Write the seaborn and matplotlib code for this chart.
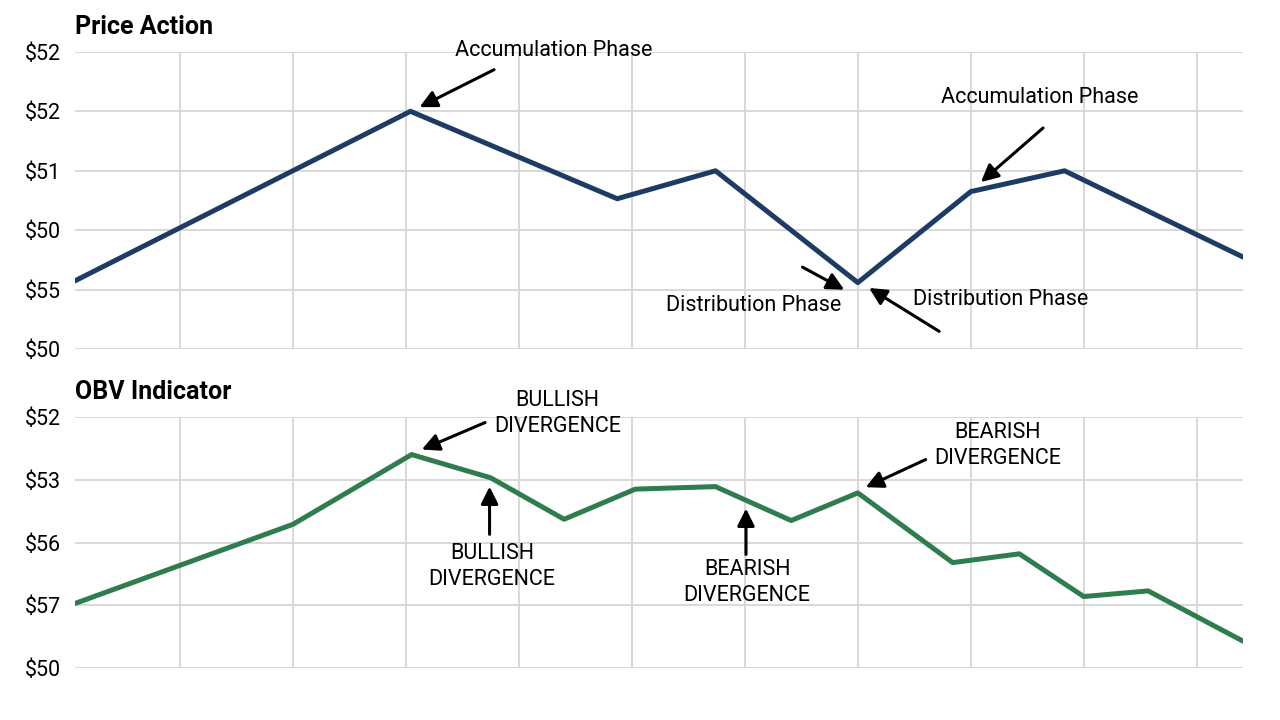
import numpy as np
import pandas as pd
import matplotlib.pyplot as plt
import seaborn as sns

# price line (x in grid steps, y in grid rows from bottom)
price_x = [0.07, 3.04, 4.87, 5.74, 7.0, 8.0, 8.83, 10.41]
price_y = [1.15, 4.0, 2.53, 3.0, 1.12, 2.65, 3.0, 1.55]
price_ticks = ["$50", "$55", "$50", "$51", "$52", "$52"]

# OBV line
obv_x = [0.07, 2.0, 3.05, 3.75, 4.40, 5.03, 5.74, 6.41, 7.0, 7.84, 8.43, 9.0, 9.57, 10.41]
obv_y = [1.03, 2.29, 3.40, 3.03, 2.37, 2.85, 2.89, 2.35, 2.79, 1.68, 1.82, 1.14, 1.23, 0.43]
obv_ticks = ["$50", "$57", "$56", "$53", "$52"]

# annotations: text, text pos, arrow tail, arrow head
price_notes = [
    ("Accumulation Phase", (4.31, 5.03), (3.78, 4.70), (3.12, 4.07)),
    ("Accumulation Phase", (8.61, 4.23), (8.64, 3.72), (8.09, 2.81)),
    ("Distribution Phase", (6.08, 0.74), (6.51, 1.38), (6.88, 1.0)),
    ("Distribution Phase", (8.26, 0.84), (7.72, 0.30), (7.10, 1.03)),
]
obv_notes = [
    ("BULLISH\nDIVERGENCE", (4.34, 4.06), (3.70, 3.91), (3.14, 3.48)),
    ("BULLISH\nDIVERGENCE", (3.76, 1.62), (3.74, 2.13), (3.74, 2.89)),
    ("BEARISH\nDIVERGENCE", (6.02, 1.36), (6.01, 1.81), (6.01, 2.54)),
    ("BEARISH\nDIVERGENCE", (8.24, 3.54), (7.60, 3.32), (7.07, 2.88)),
]

sns.set_theme(style="whitegrid")
plt.rcParams['font.family'] = ['Roboto', 'DejaVu Sans']
plt.rcParams['text.color'] = 'black'
plt.rcParams['ytick.color'] = 'black'

fig = plt.figure(figsize=(12.8, 7.2), dpi=100)
ax1 = fig.add_axes([0.0586, 0.515, 0.9125, 0.413])
ax2 = fig.add_axes([0.0586, 0.072, 0.9125, 0.349])

df1 = pd.DataFrame({"x": price_x, "y": price_y})
df2 = pd.DataFrame({"x": obv_x, "y": obv_y})
sns.lineplot(data=df1, x="x", y="y", ax=ax1, color="#1d3b64", linewidth=3.6)
sns.lineplot(data=df2, x="x", y="y", ax=ax2, color="#2f7d4f", linewidth=3.6)

for ax, ticks, notes, title in [(ax1, price_ticks, price_notes, "Price Action"),
                                (ax2, obv_ticks, obv_notes, "OBV Indicator")]:
    ax.set_xlim(0.07, 10.41)
    ax.set_ylim(0, len(ticks) - 1)
    ax.set_xticks(range(1, 11))
    ax.set_xticklabels([])
    ax.set_yticks(range(len(ticks)))
    ax.set_yticklabels(ticks, fontsize=15.5, color='black')
    ax.tick_params(axis='y', length=0, pad=10)
    ax.tick_params(axis='x', length=0)
    ax.set_xlabel("")
    ax.set_ylabel("")
    ax.grid(True, color="#d6d6d6", linewidth=1.3)
    for s in ax.spines.values():
        s.set_visible(False)
    ax.set_title(title, loc='left', fontsize=18, fontweight='bold', pad=13, color='black')
    for txt, tpos, tail, head in notes:
        ax.text(tpos[0], tpos[1], txt, ha='center', va='center', fontsize=15.5,
                linespacing=1.3, color='black', clip_on=False)
        ax.annotate("", xy=head, xytext=tail,
                    arrowprops=dict(arrowstyle='-|>', color='black', lw=2.2,
                                    mutation_scale=26, shrinkA=0, shrinkB=0),
                    annotation_clip=False)

fig.savefig("out.png", dpi=100)
